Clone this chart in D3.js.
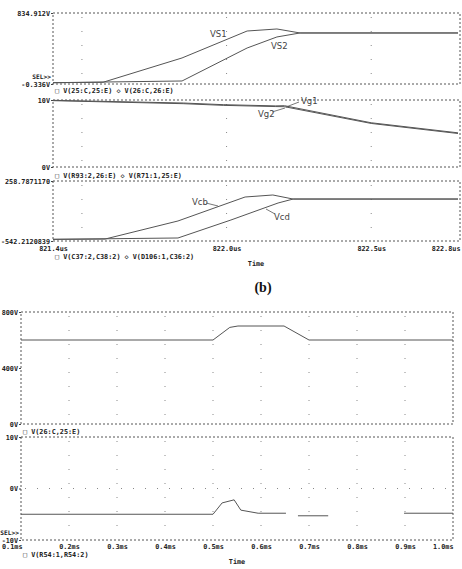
<!DOCTYPE html>
<html>
<head>
<meta charset="utf-8">
<script src="https://cdn.jsdelivr.net/npm/d3@7"></script>
<style>
body { margin: 0; background: #fff; }
text { font-family: "DejaVu Sans Mono", monospace; font-weight: bold; font-size: 6.8px; fill: #222; }
.tr { font-family: "DejaVu Sans", sans-serif; font-weight: normal; font-size: 8.5px; fill: #444; }
.sub { font-family: "Liberation Serif", serif; font-weight: bold; font-size: 14px; fill: #111; }
</style>
</head>
<body>
<svg id="chart" width="462" height="569"></svg>
<script>
// ---------- data ----------
// (a) upper plot, time in us
var aTicks = [821.4, 822.0, 822.5, 822.8];
var aGrid = [821.5, 822.0, 822.5];
var vs1 = [[821.4, 15], [821.573, 20], [821.846, 306], [822.071, 623], [822.174, 647], [822.254, 600], [822.8, 600]];
var vs2 = [[821.4, 15], [821.846, 35], [822.071, 423], [822.174, 553], [822.254, 600], [822.8, 600]];
var vg1 = [[821.4, 9.95], [821.85, 9.55], [821.99, 9.3], [822.17, 9.12], [822.2, 9.15], [822.5, 6.6], [822.8, 5.1]];
var vg2 = [[821.4, 9.9], [821.85, 9.45], [821.99, 9.2], [822.17, 9.02], [822.2, 9.0], [822.5, 6.5], [822.8, 5.0]];
var vcb = [[821.4, -520], [821.58, -516], [821.832, -275], [822.064, 45], [822.16, 72], [822.23, 18], [822.8, 18]];
var vcd = [[821.4, -520], [821.832, -502], [822.015, -262], [822.178, -35], [822.23, 18], [822.8, 18]];

// (b) lower plot, time in ms (null = gap in the trace)
var bTicks = [0.1, 0.2, 0.3, 0.4, 0.5, 0.6, 0.7, 0.8, 0.9, 1.0];
var v26 = [[0.1, 600], [0.5, 600], [0.535, 690], [0.552, 700], [0.648, 700], [0.70, 600], [1.0, 600]];
var vR54 = [[0.1, -5], [0.5, -5], [0.519, -2.8], [0.544, -2.2], [0.558, -4.2], [0.594, -4.8], [0.652, -4.8], null,
            [0.677, -5.3], [0.74, -5.3], null, [0.898, -4.8], [1.0, -4.8]];

// ---------- layout ----------
var svg = d3.select("#chart");

var xA = d3.scaleLinear().domain([821.4, 822.8]).range([53, 458]);
var xB = d3.scaleLinear().domain([0.1, 1.0]).range([21, 453]);

var panels = [
  { x: xA, right: 460, y: d3.scaleLinear().domain([-0.336, 834.912]).range([84, 13]),
    ticks: [834.912, -0.336], fmt: d => d === 834.912 ? "834.912V" : "-0.336V",
    sel: true, legend: "□ V(25:C,25:E)  ◇ V(26:C,26:E)", legY: 92.5,
    traces: [vs1, vs2], grid: aGrid },
  { x: xA, right: 460, y: d3.scaleLinear().domain([0, 10]).range([167, 100]),
    ticks: [10, 0], fmt: d => d + "V",
    legend: "□ V(R93:2,26:E)  ◇ V(R71:1,25:E)", legY: 178,
    traces: [vg1, vg2], grid: aGrid },
  { x: xA, right: 460, y: d3.scaleLinear().domain([-542.2120839, 258.7871170]).range([241, 181]),
    ticks: [258.7871170, -542.2120839], fmt: d => d > 0 ? "258.7871170" : "-542.2120839",
    legend: "□ V(C37:2,C38:2)  ◇ V(D106:1,C36:2)", legY: 259,
    traces: [vcb, vcd], grid: aGrid },
  { x: xB, right: 453, y: d3.scaleLinear().domain([0, 800]).range([424, 312]),
    ticks: [800, 400, 0], fmt: d => d + "V",
    legend: "□ V(26:C,25:E)", legY: 433.5,
    traces: [v26], grid: bTicks.slice(1, 9) },
  { x: xB, right: 453, y: d3.scaleLinear().domain([-10, 10]).range([540, 437]),
    ticks: [10, 0, -10], fmt: d => d + "V",
    sel: true, legend: "□ V(R54:1,R54:2)", legY: 557,
    traces: [vR54], grid: bTicks.slice(1, 9), hgrid: [0] }
];

panels.forEach(function(p) {
  var g = svg.append("g");
  var x0 = p.x.range()[0], yTop = p.y.range()[1], yBot = p.y.range()[0];

  // sparse dotted grid
  g.selectAll(".vg").data(p.grid).enter().append("line")
    .attr("x1", d => p.x(d)).attr("x2", d => p.x(d))
    .attr("y1", yTop + 4).attr("y2", yBot - 2)
    .attr("stroke", "#888").attr("stroke-width", 1)
    .attr("stroke-dasharray", "1,13");
  (p.hgrid || []).forEach(function(h) {
    g.append("line")
      .attr("x1", x0 + 4).attr("x2", p.right - 2)
      .attr("y1", p.y(h)).attr("y2", p.y(h))
      .attr("stroke", "#888").attr("stroke-dasharray", "1,11");
  });

  // dashed frame
  g.append("rect")
    .attr("x", x0).attr("y", yTop)
    .attr("width", p.right - x0).attr("height", yBot - yTop)
    .attr("fill", "none").attr("stroke", "#555").attr("stroke-width", 1)
    .attr("stroke-dasharray", "2,2");

  // left axis labels
  var ax = g.append("g").attr("transform", `translate(${x0},0)`)
    .call(d3.axisLeft(p.y).tickValues(p.ticks).tickFormat(p.fmt).tickSize(2).tickPadding(1));
  ax.select(".domain").remove();
  ax.selectAll("line").attr("stroke", "#444");
  ax.selectAll("text").style("font-size", "6.8px").style("font-family", null).attr("fill", "#222");

  if (p.sel) {
    g.append("text").attr("x", x0 - 2).attr("y", yBot - 5)
      .attr("text-anchor", "end").style("font-size", "6.2px").text("SEL>>");
  }

  // traces
  var line = d3.line()
    .defined(d => d !== null)
    .x(d => p.x(d[0])).y(d => p.y(d[1]));
  p.traces.forEach(function(t) {
    g.append("path").datum(t)
      .attr("d", line)
      .attr("fill", "none").attr("stroke", "#555").attr("stroke-width", 1);
  });

  // legend
  g.append("text").attr("x", x0 + 2).attr("y", p.legY).text(p.legend);
});

// x axes
function xAxis(scale, yPos, fmt, ticks, pad) {
  var ax = svg.append("g").attr("transform", `translate(0,${yPos})`)
    .call(d3.axisBottom(scale).tickValues(ticks).tickFormat(fmt).tickSize(0).tickPadding(pad));
  ax.select(".domain").remove();
  ax.selectAll("text").style("font-size", "6.8px").style("font-family", null).attr("fill", "#222");
  return ax;
}
var axA = xAxis(xA, 241, d => d.toFixed(1) + "us", aTicks, 5.5);
axA.selectAll(".tick").filter(d => d === 822.8).select("text").attr("text-anchor", "end").attr("x", 2);

var axB = xAxis(xB, 540, d => d.toFixed(1) + "ms", bTicks, 4.5);
axB.selectAll(".tick").filter(d => d === 0.1).select("text").attr("text-anchor", "end").attr("x", 1);
axB.selectAll(".tick").filter(d => d === 1.0).select("text").attr("text-anchor", "end").attr("x", 0);

svg.append("text").attr("x", 256).attr("y", 266).attr("text-anchor", "middle").text("Time");
svg.append("text").attr("x", 237).attr("y", 564).attr("text-anchor", "middle").text("Time");

// trace names in the upper plot
var tags = [
  { t: "VS1", x: 210, y: 37 },
  { t: "VS2", x: 271, y: 49 },
  { t: "Vg1", x: 301, y: 104, l: [286, 107, 299, 102] },
  { t: "Vg2", x: 258, y: 117, l: [272, 112, 285, 108] },
  { t: "Vcb", x: 192, y: 205, l: [206, 203, 218, 206] },
  { t: "Vcd", x: 274, y: 220, l: [266, 209, 275, 214] }
];
tags.forEach(function(d) {
  svg.append("text").attr("class", "tr").attr("x", d.x).attr("y", d.y).text(d.t);
  if (d.l) {
    svg.append("line").attr("x1", d.l[0]).attr("y1", d.l[1]).attr("x2", d.l[2]).attr("y2", d.l[3])
      .attr("stroke", "#555").attr("stroke-width", 0.8);
  }
});

svg.append("text").attr("class", "sub").attr("x", 263).attr("y", 292).attr("text-anchor", "middle").text("(b)");
</script>
</body>
</html>
